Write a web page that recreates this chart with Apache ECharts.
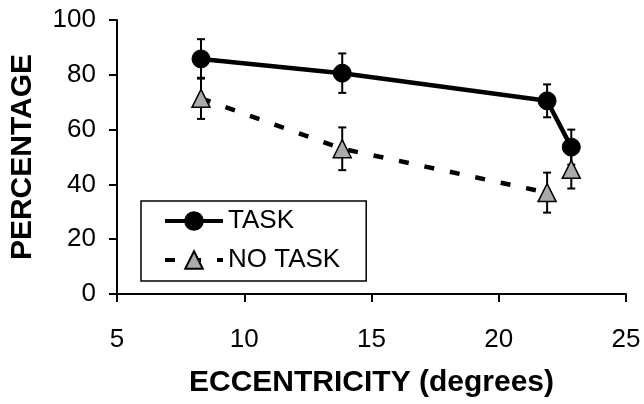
<!DOCTYPE html>
<html>
<head>
<meta charset="utf-8">
<script src="https://cdn.jsdelivr.net/npm/echarts@6/dist/echarts.min.js"></script>
<style>
html,body{margin:0;padding:0;background:#fff;}
#c{width:644px;height:404px;}
</style>
</head>
<body>
<div id="c"></div>
<script>
// Data
var eccentricity = [8.3, 13.85, 21.9, 22.85];
var taskMean = [85.8, 80.6, 70.5, 53.6];
var taskErr = [7.2, 7.2, 6.0, 6.4];
var noTaskMean = [71.4, 53.0, 37.0, 45.5];
var noTaskErr = [7.5, 7.8, 7.3, 7.0];
var xTicks = [5, 10, 15, 20, 25];
var yTicks = [0, 20, 40, 60, 80, 100];

var FONT = '"Liberation Sans", Arial, sans-serif';

function pairs(xs, ys) { return xs.map(function (x, i) { return [x, ys[i]]; }); }
function errData(xs, m, e) { return xs.map(function (x, i) { return [x, m[i] - e[i], m[i] + e[i]]; }); }

var errAll = errData(eccentricity, noTaskMean, noTaskErr).concat(errData(eccentricity, taskMean, taskErr));

function renderErr(params, api) {
  var x = api.value(0);
  var lo = api.coord([x, api.value(1)]);
  var hi = api.coord([x, api.value(2)]);
  var hw = 4;
  var st = { stroke: '#000', lineWidth: 2 };
  return {
    type: 'group',
    children: [
      { type: 'line', shape: { x1: lo[0], y1: lo[1], x2: hi[0], y2: hi[1] }, style: st },
      { type: 'line', shape: { x1: lo[0] - hw, y1: lo[1], x2: lo[0] + hw, y2: lo[1] }, style: st },
      { type: 'line', shape: { x1: hi[0] - hw, y1: hi[1], x2: hi[0] + hw, y2: hi[1] }, style: st }
    ]
  };
}

var noTaskPts = pairs(eccentricity, noTaskMean);
var taskPts = pairs(eccentricity, taskMean);

var chart = echarts.init(document.getElementById('c'), null, { renderer: 'canvas' });
chart.setOption({
  backgroundColor: '#fff',
  animation: false,
  grid: { left: 113, right: 18, top: 20, bottom: 110, containLabel: false },
  legend: {
    orient: 'vertical',
    left: 141, top: 201,
    padding: [7, 26, 8, 22],
    itemGap: 13,
    itemWidth: 58,
    itemHeight: 22,
    borderColor: '#000',
    borderWidth: 1.5,
    backgroundColor: '#fff',
    lineStyle: { width: 4 },
    textStyle: { fontFamily: FONT, fontSize: 26, color: '#000' },
    data: ['TASK', 'NO TASK']
  },
  xAxis: {
    type: 'value', min: xTicks[0], max: xTicks[xTicks.length - 1], interval: 5,
    name: 'ECCENTRICITY (degrees)', nameLocation: 'middle', nameGap: 74,
    nameTextStyle: { fontFamily: FONT, fontSize: 30, fontWeight: 'bold', color: '#000' },
    axisLine: { show: true, lineStyle: { color: '#000', width: 2 } },
    axisTick: { show: true, length: 8, lineStyle: { color: '#000', width: 2 } },
    axisLabel: { fontFamily: FONT, fontSize: 26, color: '#000', margin: 33 },
    splitLine: { show: false }
  },
  yAxis: {
    type: 'value', min: yTicks[0], max: yTicks[yTicks.length - 1], interval: 20,
    name: 'PERCENTAGE', nameLocation: 'middle', nameGap: 79,
    nameTextStyle: { fontFamily: FONT, fontSize: 30, fontWeight: 'bold', color: '#000' },
    axisLine: { show: true, lineStyle: { color: '#000', width: 2 } },
    axisTick: { show: true, length: 8, lineStyle: { color: '#000', width: 2 } },
    axisLabel: { fontFamily: FONT, fontSize: 26, color: '#000', margin: 21 },
    splitLine: { show: false }
  },
  series: [
    {
      type: 'custom', name: 'err', renderItem: renderErr, data: errAll,
      encode: { x: 0, y: [1, 2] }, z: 1, silent: true
    },
    {
      type: 'line', name: 'NO TASK', data: noTaskPts.slice(0, 3), z: 2,
      symbol: 'triangle', symbolSize: 18, showAllSymbol: true,
      lineStyle: { color: '#000', width: 4.5, type: [10, 16] },
      itemStyle: { color: '#ababab', borderColor: '#000', borderWidth: 1.5 }
    },
    {
      type: 'line', name: 'NO TASK', data: noTaskPts.slice(3), z: 2,
      symbol: 'triangle', symbolSize: 18, showAllSymbol: true,
      lineStyle: { color: '#000', width: 4.5, type: [10, 16] },
      itemStyle: { color: '#ababab', borderColor: '#000', borderWidth: 1.5 }
    },
    {
      type: 'line', name: 'TASK', data: taskPts, z: 3,
      symbol: 'circle', symbolSize: 18, showAllSymbol: true,
      lineStyle: { color: '#000', width: 4.5 },
      itemStyle: { color: '#000', borderColor: '#000', borderWidth: 1 }
    }
  ]
});
</script>
</body>
</html>
